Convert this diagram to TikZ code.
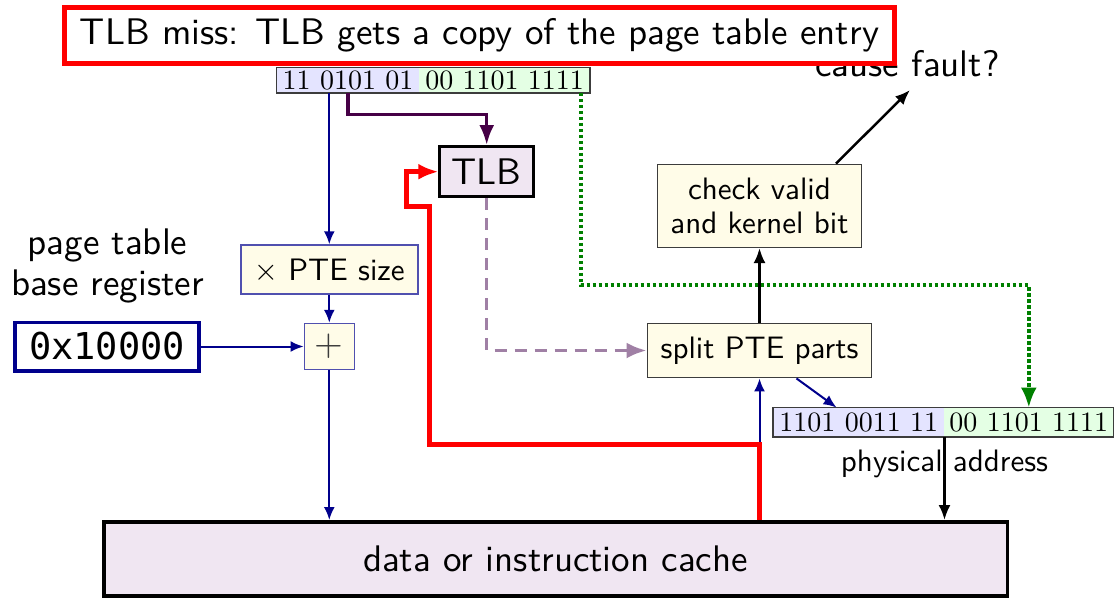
\documentclass[tikz,border=0pt]{standalone}
\usepackage{fontspec}
\setmainfont{lmroman10-regular.otf}
\setsansfont{lmsans10-regular.otf}
\setmonofont{DejaVu Sans Mono}
\usetikzlibrary{arrows.meta}

\definecolor{navy}{RGB}{0,0,140}
\definecolor{opblue}{RGB}{80,80,175}
\definecolor{lavender}{RGB}{240,230,242}
\definecolor{cream}{RGB}{255,252,232}
\definecolor{hiblue}{RGB}{228,228,255}
\definecolor{logreen}{RGB}{228,255,228}
\definecolor{plum}{RGB}{70,0,70}
\definecolor{mauve}{RGB}{160,128,165}
\definecolor{dgreen}{RGB}{0,128,0}
\definecolor{edge}{RGB}{60,60,60}

\newcommand{\bigtext}{\fontsize{37}{41}\selectfont}
\newcommand{\midtext}{\fontsize{31}{34.7}\selectfont}
\newcommand{\bintext}{\fontsize{28}{30}\selectfont\rmfamily}

\tikzset{
  every node/.style={inner sep=0pt, font=\sffamily\bigtext},
  binpart/.style={font=\bintext, minimum height=25pt},
  opbox/.style={draw=opblue, line width=1.5pt, fill=cream},
  stagebox/.style={draw=edge, line width=1.5pt, fill=cream, font=\sffamily\midtext, align=center},
  navyline/.style={draw=navy, line width=2pt, -{Latex[length=13pt,width=11pt]}},
  blackarrow/.style={draw=black, line width=2.5pt, -{Latex[length=15pt,width=12pt]}},
  plumline/.style={draw=plum, line width=3.5pt, -{Latex[length=20pt,width=15pt]}},
  greendot/.style={draw=dgreen, line width=3.5pt, dash pattern=on 3.5pt off 2.5pt, -{Latex[length=20pt,width=16pt]}},
  mauvedash/.style={draw=mauve, line width=3.5pt, dash pattern=on 12pt off 8pt, -{Latex[length=20pt,width=16pt]}},
  redline/.style={draw=red, line width=4.5pt, -{Latex[length=20pt,width=16pt]}},
}

\begin{document}
\begin{tikzpicture}[x=1pt, y=-1pt]
\useasboundingbox (0,0) rectangle (1116,598);

% virtual address: page number and offset
\node[binpart, fill=hiblue, minimum width=142.6pt] (vahi) at (348,80.2) {11 0101 01};
\node[binpart, fill=logreen, minimum width=170.7pt] (valo) at (504.65,80.2) {00 1101 1111};
\draw[edge, line width=1.5pt] (vahi.north west) rectangle (valo.south east);

% physical address
\node[binpart, fill=hiblue, minimum width=171pt, minimum height=29pt] (pahi) at (858.8,422.2) {1101 0011 11};
\node[binpart, fill=logreen, minimum width=169pt, minimum height=29pt] (palo) at (1028.8,422.2) {00 1101 1111};
\draw[edge, line width=1.5pt] (pahi.north west) rectangle (palo.south east);
\node[font=\sffamily\midtext, anchor=base] (physlbl) at (944.5,471.7) {physical address};

% lookup hardware
\node[draw=black, line width=3pt, fill=lavender, minimum width=93.7pt, minimum height=50.3pt] (tlb) at (486.7,171.7) {TLB};
\node[opbox, font=\sffamily\midtext, minimum width=177pt, minimum height=49pt] (ptes) at (329.3,269.5) {{\rmfamily ×} PTE size};
\node[opbox, text=edge, minimum width=50pt, minimum height=46pt] (plus) at (329.3,346.5) {\rmfamily +};
\node[draw=navy, line width=3.5pt, minimum width=184pt, minimum height=48.5pt, font=\ttfamily\bigtext] (reg) at (107,346.5) {0x10000};
\node[align=center] (ptbr) at (107.5,266.3) {page table\\base register};
\node[stagebox, minimum width=204.4pt, minimum height=83pt] (check) at (759.5,205.8) {check valid\\and kernel bit};
\node[stagebox, minimum width=224.4pt, minimum height=54.4pt] (split) at (759.5,350.5) {split PTE parts};
\node[anchor=base] (fault) at (907.5,76) {cause fault?};
\node[draw=black, line width=3.5pt, fill=lavender, minimum width=903.5pt, minimum height=74.3pt] (cache) at (555.5,558.9) {data or instruction cache};

% connectors
\draw[greendot] ([xshift=-9.3pt]valo.south east) -- ++(0,192.3) -| (palo.north);
\draw[navyline] (vahi.south -| ptes.north) -- (ptes.north);
\draw[navyline] (ptes.south) -- (plus.north);
\draw[navyline] (reg.east) -- (plus.west);
\draw[navyline] (plus.south) -- (plus.south |- cache.north);
\draw[plumline] (vahi.south) -- ++(0,21.6) -| (tlb.north);
\draw[mauvedash] (tlb.south) |- (split.west);
\draw[navyline] (split.south |- cache.north) -- (split.south);
\draw[navyline] ([xshift=37pt]split.south) -- ([xshift=63.4pt]pahi.north west);
\draw[blackarrow] (split.north) -- (check.south);
\draw[blackarrow] ([xshift=76.5pt]check.north) -- ([xshift=2.5pt,yshift=-14pt]fault.base);
\draw[blackarrow] (pahi.south east) -- (pahi.south east |- cache.north);
\draw[redline] (split.south |- cache.north) -- ++(0,-75.75) -- ++(-330,0) -- ++(0,-238) -- ++(-23,0) |- (tlb.west);

% caption box on top
\node[draw=red, line width=5pt, fill=white, minimum width=830pt, minimum height=56pt] (title) at (479.5,35.5) {TLB miss: TLB gets a copy of the page table entry};
\end{tikzpicture}
\end{document}
